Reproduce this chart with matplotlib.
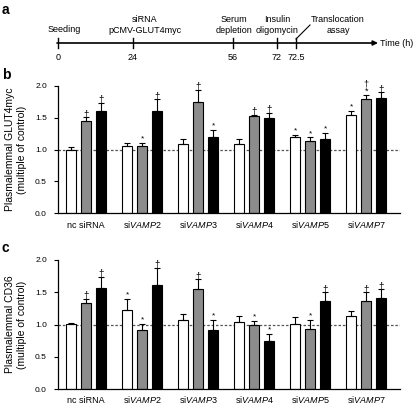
import matplotlib
matplotlib.use("Agg")
import matplotlib.pyplot as plt
import numpy as np

plt.rcParams['font.family'] = ['Liberation Sans', 'DejaVu Sans']
plt.rcParams['mathtext.fontset'] = 'custom'
plt.rcParams['mathtext.rm'] = 'Liberation Sans'
plt.rcParams['mathtext.it'] = 'Liberation Sans:italic'

# ---------------- data ----------------
groups = ["nc siRNA", "si$\\it{VAMP2}$", "si$\\it{VAMP3}$", "si$\\it{VAMP4}$",
          "si$\\it{VAMP5}$", "si$\\it{VAMP7}$"]

# panel b: Plasmalemmal GLUT4myc
glut_white = [1.00, 1.06, 1.08, 1.08, 1.19, 1.55]
glut_white_err = [0.04, 0.05, 0.08, 0.09, 0.04, 0.06]
glut_gray = [1.45, 1.05, 1.75, 1.53, 1.13, 1.80]
glut_gray_err = [0.06, 0.05, 0.19, 0.02, 0.06, 0.06]
glut_black = [1.61, 1.61, 1.20, 1.49, 1.16, 1.81]
glut_black_err = [0.13, 0.18, 0.11, 0.09, 0.10, 0.09]
glut_marks = [["", "†", "†"], ["", "*", "†"], ["", "†", "*"],
              ["", "†", "†"], ["*", "*", "*"], ["*", "*†", "†"]]

# panel c: Plasmalemmal CD36
cd36_white = [1.01, 1.22, 1.07, 1.04, 1.01, 1.13]
cd36_white_err = [0.02, 0.18, 0.10, 0.09, 0.10, 0.08]
cd36_gray = [1.34, 0.92, 1.55, 1.00, 0.93, 1.37]
cd36_gray_err = [0.06, 0.09, 0.15, 0.06, 0.14, 0.13]
cd36_black = [1.57, 1.62, 0.91, 0.75, 1.37, 1.41]
cd36_black_err = [0.17, 0.26, 0.16, 0.11, 0.13, 0.14]
cd36_marks = [["", "†", "†"], ["*", "*", "†"], ["", "†", "*"],
              ["", "*", "*"], ["", "*", "†"], ["", "†", "†"]]

# panel a: timeline
time_labels = ["0", "24", "56", "72", "72.5"]
time_events = ["Seeding", "siRNA\npCMV-GLUT4myc", "Serum\ndepletion",
               "Insulin\noligomycin", "Translocation\nassay"]

# ---------------- figure ----------------
W, H = 416, 405
fig = plt.figure(figsize=(W / 100, H / 100), dpi=100)

def frac(x0, y0, x1, y1):
    return [x0 / W, 1 - y1 / H, (x1 - x0) / W, (y1 - y0) / H]

# ---- panel a ----
axa = fig.add_axes([0, 0, 1, 1])
axa.set_xlim(0, W)
axa.set_ylim(H, 0)
axa.axis('off')
tick_px = [58, 133, 233, 277, 296]
line_y = 43
axa.annotate("", xy=(378, line_y), xytext=(57, line_y),
             arrowprops=dict(arrowstyle="-|>", lw=1.2, color="black",
                             mutation_scale=7, shrinkA=0, shrinkB=0))
for xp, lab in zip(tick_px, time_labels):
    axa.plot([xp, xp], [line_y - 5, line_y + 5], color="black", lw=1.0)
    axa.text(xp, 58, lab, ha="center", va="center", fontsize=6.5)
ev_x = [64, 145, 234, 277, 338]
ev_y = [29, 25, 25, 25, 25]
for xp, yp, ev in zip(ev_x, ev_y, time_events):
    axa.text(xp, yp, ev, ha="center", va="center", fontsize=6.5,
             linespacing=1.15)
axa.plot([296, 310], [39, 25], color="black", lw=0.8)
axa.text(380, line_y, "Time (h)", ha="left", va="center", fontsize=6.5)
axa.text(2, 10, "a", fontsize=10, fontweight="bold", va="center")
axa.text(2, 75, "b", fontsize=10, fontweight="bold", va="center")
axa.text(2, 248, "c", fontsize=10, fontweight="bold", va="center")

# ---- bar panels ----
def bar_panel(rect, whites, we, grays, ge, blacks, be, marks, ylabel, lab_off):
    ax = fig.add_axes(rect)
    x = np.arange(len(groups))
    step = 0.268
    width = 0.18
    series = [(whites, we, "white"), (grays, ge, "#8c8c8c"), (blacks, be, "black")]
    for k, (vals, errs, col) in enumerate(series):
        xs = x + (k - 1) * step
        ax.bar(xs, vals, width=width, color=col, edgecolor="black",
               linewidth=0.8, zorder=2)
        ax.errorbar(xs, vals, yerr=[np.zeros(len(vals)), errs], fmt="none",
                    ecolor="black", elinewidth=0.8, capsize=2.3,
                    capthick=0.8, zorder=3)
        for i in range(len(vals)):
            m = marks[i][k]
            top = vals[i] + errs[i]
            if m == "*":
                ax.text(xs[i], top + 0.005, "*", ha="center",
                        va="bottom", fontsize=6, zorder=4)
            elif m == "†":
                ax.text(xs[i], top - 0.04, "†", ha="center",
                        va="bottom", fontsize=7, zorder=4)
            elif m == "*†":
                ax.text(xs[i], top - 0.01, "†\n*", ha="center",
                        va="bottom", fontsize=6.5, linespacing=0.75,
                        zorder=4)
    ax.axhline(1.0, color="#555555", lw=0.9, ls=(0, (2, 1.5)), zorder=1)
    ax.set_xlim(-0.5, 5.6)
    ax.set_ylim(0, 2.0)
    ax.set_yticks([0, 0.5, 1.0, 1.5, 2.0])
    ax.set_yticklabels(["0.0", "0.5", "1.0", "1.5", "2.0"])
    ax.set_xticks(x)
    ax.set_xticklabels([])
    trans = ax.get_xaxis_transform()
    for xi, g in zip(x, groups):
        ax.text(xi, lab_off, g, transform=trans, ha="center", va="baseline",
                fontsize=6.5)
    ax.tick_params(axis="x", length=0)
    ax.tick_params(axis="y", length=3, width=0.8, pad=5, labelsize=6)
    for s in ["top", "right"]:
        ax.spines[s].set_visible(False)
    for s in ["left", "bottom"]:
        ax.spines[s].set_linewidth(0.9)
    ax.set_ylabel(ylabel, fontsize=7.5, labelpad=6, linespacing=1.2)
    return ax

bar_panel(frac(58, 86, 400, 213), glut_white, glut_white_err, glut_gray,
          glut_gray_err, glut_black, glut_black_err, glut_marks,
          "Plasmalemmal GLUT4myc\n(multiple of control)", -15 / 127)
bar_panel(frac(58, 260, 400, 389), cd36_white, cd36_white_err, cd36_gray,
          cd36_gray_err, cd36_black, cd36_black_err, cd36_marks,
          "Plasmalemmal CD36\n(multiple of control)", -14 / 129)

fig.savefig("out.png", dpi=100)
